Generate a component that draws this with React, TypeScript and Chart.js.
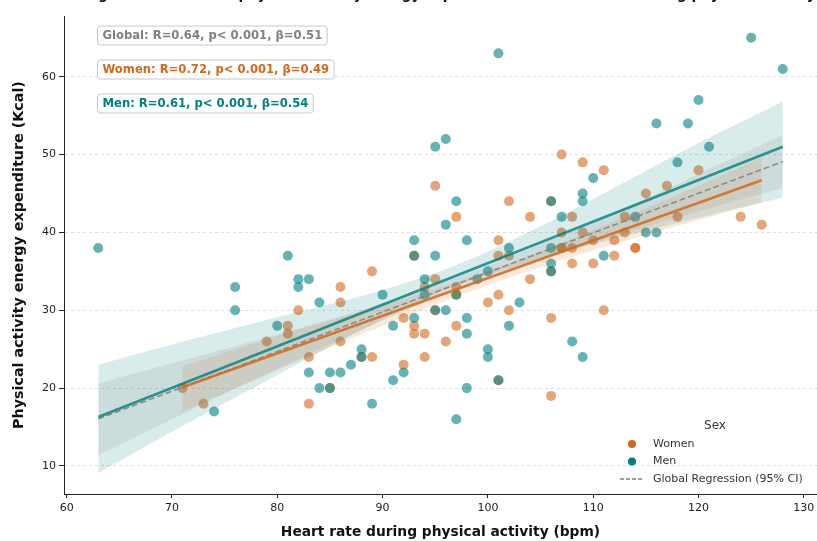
import React, { useEffect, useRef } from "react";
import { Chart, registerables } from "chart.js";
Chart.register(...registerables);

const FONT = "'DejaVu Sans', 'Noto Sans', sans-serif";

// ---- data ----
const womenHR = [71, 73, 79, 81, 81, 82, 83, 83, 85, 86, 86, 86, 88, 89, 89, 92, 92, 93, 93, 93, 94, 94, 94, 95, 95, 95, 96, 97, 97, 97, 97, 100, 101, 101, 101, 101, 102, 102, 102, 104, 104, 106, 106, 106, 106, 107, 107, 107, 107, 108, 108, 108, 109, 109, 110, 110, 111, 111, 112, 112, 113, 113, 114, 114, 115, 117, 118, 120, 124, 126];
const womenKcal = [20, 18, 26, 28, 27, 30, 24, 18, 20, 33, 31, 26, 24, 35, 24, 29, 23, 37, 28, 27, 33, 27, 24, 46, 34, 30, 26, 42, 33, 32, 28, 31, 39, 37, 32, 21, 44, 37, 30, 42, 34, 44, 35, 29, 19, 50, 40, 38, 38, 42, 38, 36, 49, 40, 39, 36, 48, 30, 39, 37, 42, 40, 38, 38, 45, 46, 42, 48, 42, 41];

const menHR = [63, 74, 76, 76, 80, 81, 82, 82, 83, 83, 84, 84, 85, 85, 86, 87, 88, 88, 89, 90, 91, 91, 92, 93, 93, 93, 94, 94, 95, 95, 95, 96, 96, 96, 97, 97, 97, 98, 98, 98, 98, 99, 100, 100, 100, 101, 101, 102, 102, 103, 106, 106, 106, 106, 107, 108, 109, 109, 109, 110, 111, 114, 115, 116, 116, 118, 119, 120, 121, 125, 128];
const menKcal = [38, 17, 33, 30, 28, 37, 34, 33, 34, 22, 31, 20, 22, 20, 22, 23, 25, 24, 18, 32, 28, 21, 22, 39, 37, 29, 34, 32, 51, 37, 30, 52, 41, 30, 44, 32, 16, 39, 29, 27, 20, 34, 35, 25, 24, 63, 21, 38, 28, 31, 44, 38, 36, 35, 42, 26, 45, 44, 24, 47, 37, 42, 40, 54, 40, 49, 54, 57, 51, 65, 61];

// regression lines (end points)
const womenFitX = [71, 126];
const womenFitY = [20.1, 46.7];
const menFitX = [63, 128];
const menFitY = [16.3, 51.0];
const globalFitX = [63, 128];
const globalFitY = [16.05, 49.1];

// 95% CI bands
const menBandX = [63, 70, 80, 90, 97, 105, 110, 120, 128];
const menBandLow = [9.1, 14.4, 21.7, 28.8, 33.2, 36.6, 38.5, 41.9, 44.5];
const menBandHigh = [23.0, 25.6, 29.1, 32.6, 35.8, 40.8, 44.3, 51.5, 56.8];
const womenBandX = [71, 80, 90, 100, 110, 120, 126];
const womenBandLow = [17.0, 22.3, 28.0, 33.2, 37.7, 41.6, 43.8];
const womenBandHigh = [22.8, 26.7, 30.6, 35.0, 40.3, 46.0, 49.6];
const globalBandX = [63, 70, 80, 90, 98, 110, 120, 128];
const globalBandLow = [11.4, 16.0, 22.5, 28.7, 33.1, 38.7, 42.7, 45.7];
const globalBandHigh = [20.6, 23.2, 26.9, 30.9, 34.7, 41.3, 47.5, 52.5];

const xTicks = [60, 70, 80, 90, 100, 110, 120, 130];
const yTicks = [10, 20, 30, 40, 50, 60];

const statLabels = [
  "Global: R=0.64, p< 0.001, β=0.51",
  "Women: R=0.72, p< 0.001, β=0.49",
  "Men: R=0.61, p< 0.001, β=0.54",
];
const legendLabels = ["Women", "Men", "Global Regression (95% CI)"];
const titleText = "Linear regression between physical activity energy expenditure and heart rate during physical activity";

const ORANGE = "#D2691E";
const TEAL = "#008080";
const GREY = "#808080";

const pts = (xs: number[], ys: number[]) => xs.map((x, i) => ({ x, y: ys[i] }));

const decorPlugin = {
  id: "decor",
  afterDraw(chart: any) {
    const ctx = chart.ctx as CanvasRenderingContext2D;
    const a = chart.chartArea;
    ctx.save();
    // clipped title (only descenders visible)
    ctx.font = `bold 13.5px ${FONT}`;
    ctx.fillStyle = "#111";
    ctx.textBaseline = "alphabetic";
    ctx.textAlign = "left";
    ctx.fillText(titleText, 30, -1);

    // stat boxes
    const colors = [GREY, ORANGE, TEAL];
    ctx.font = `bold 11.6px ${FONT}`;
    statLabels.forEach((t, i) => {
      const w = ctx.measureText(t).width;
      const x0 = a.left + 33;
      const yc = a.top + 19.5 + i * 34;
      ctx.beginPath();
      (ctx as any).roundRect(x0 + 0.5, yc - 9.5, w + 10, 19, 3);
      ctx.fillStyle = "#fff";
      ctx.fill();
      ctx.strokeStyle = "#c8c8c8";
      ctx.lineWidth = 1;
      ctx.stroke();
      ctx.fillStyle = colors[i];
      ctx.textBaseline = "middle";
      ctx.fillText(t, x0 + 5.5, yc + 0.5);
    });

    // legend
    const lx = 632;
    ctx.fillStyle = "#333";
    ctx.font = `12px ${FONT}`;
    ctx.textAlign = "center";
    ctx.textBaseline = "middle";
    ctx.fillText("Sex", lx + 83, a.bottom - 68);
    ctx.textAlign = "left";
    ctx.font = `11px ${FONT}`;
    const mk = [ORANGE, TEAL];
    [0, 1].forEach((i) => {
      const y = a.bottom - 50 + i * 17.5;
      ctx.beginPath();
      ctx.arc(lx, y, 4, 0, Math.PI * 2);
      ctx.fillStyle = mk[i];
      ctx.fill();
      ctx.fillStyle = "#333";
      ctx.fillText(legendLabels[i], lx + 21, y);
    });
    const gy = a.bottom - 15;
    ctx.beginPath();
    ctx.setLineDash([4, 2]);
    ctx.strokeStyle = GREY;
    ctx.lineWidth = 1.5;
    ctx.moveTo(lx - 12, gy);
    ctx.lineTo(lx + 12, gy);
    ctx.stroke();
    ctx.setLineDash([]);
    ctx.fillStyle = "#333";
    ctx.fillText(legendLabels[2], lx + 21, gy);
    ctx.restore();
  },
};

export default function App() {
  const ref = useRef<HTMLCanvasElement>(null);
  useEffect(() => {
    const band = (xs: number[], lo: number[], hi: number[], color: string, order: number) => [
      {
        type: "line",
        data: pts(xs, lo),
        borderColor: "transparent",
        borderWidth: 0,
        pointRadius: 0,
        fill: false,
        cubicInterpolationMode: "monotone",
        order,
      },
      {
        type: "line",
        data: pts(xs, hi),
        borderColor: "transparent",
        borderWidth: 0,
        pointRadius: 0,
        fill: "-1",
        backgroundColor: color,
        cubicInterpolationMode: "monotone",
        order,
      },
    ];
    const chart = new Chart(ref.current as HTMLCanvasElement, {
      type: "scatter",
      data: {
        datasets: [
          {
            label: "Women",
            data: pts(womenHR, womenKcal),
            backgroundColor: "rgba(210,105,30,0.6)",
            borderColor: "rgba(0,0,0,0)",
            borderWidth: 0,
            pointRadius: 5,
            order: 30,
          },
          {
            label: "Men",
            data: pts(menHR, menKcal),
            backgroundColor: "rgba(0,128,128,0.6)",
            borderColor: "rgba(0,0,0,0)",
            borderWidth: 0,
            pointRadius: 5,
            order: 29,
          },
          ...band(menBandX, menBandLow, menBandHigh, "rgba(0,128,128,0.15)", 12),
          ...band(womenBandX, womenBandLow, womenBandHigh, "rgba(210,105,30,0.15)", 11),
          ...band(globalBandX, globalBandLow, globalBandHigh, "rgba(128,128,128,0.15)", 10),
          {
            type: "line",
            label: "Global",
            data: pts(globalFitX, globalFitY),
            borderColor: "rgba(128,128,128,0.9)",
            borderWidth: 1.5,
            borderDash: [6, 3],
            pointRadius: 0,
            fill: false,
            order: 3,
          },
          {
            type: "line",
            label: "MenFit",
            data: pts(menFitX, menFitY),
            borderColor: "rgba(0,128,128,0.8)",
            borderWidth: 2.6,
            pointRadius: 0,
            fill: false,
            order: 2,
          },
          {
            type: "line",
            label: "WomenFit",
            data: pts(womenFitX, womenFitY),
            borderColor: "rgba(210,105,30,0.85)",
            borderWidth: 2.6,
            pointRadius: 0,
            fill: false,
            order: 1,
          },
        ] as any,
      },
      options: {
        responsive: false,
        animation: false,
        devicePixelRatio: 1,
        layout: { autoPadding: false, padding: { left: 0, top: 16, right: -2, bottom: 0 } },
        plugins: { legend: { display: false }, tooltip: { enabled: false }, title: { display: false } },
        scales: {
          x: {
            type: "linear",
            min: 59.75,
            max: 131.25,
            afterBuildTicks: (s: any) => {
              s.ticks = xTicks.map((v) => ({ value: v }));
            },
            afterFit: (s: any) => {
              s.height = 47;
              s.paddingRight = 0;
              s.paddingLeft = 0;
            },
            ticks: { font: { family: FONT, size: 11 }, color: "#222", padding: 4 },
            grid: { drawOnChartArea: false, drawTicks: true, tickLength: 4, tickColor: "#222", tickWidth: 1 },
            border: { display: true, color: "#222", width: 1 },
            title: {
              display: true,
              text: "Heart rate during physical activity (bpm)",
              font: { family: FONT, size: 13.8, weight: "bold" },
              color: "#111",
              padding: { top: 0, bottom: 0 },
            },
          },
          y: {
            type: "linear",
            min: 6.4,
            max: 67.8,
            afterBuildTicks: (s: any) => {
              s.ticks = yTicks.map((v) => ({ value: v }));
            },
            afterFit: (s: any) => {
              s.width = 64;
              s.paddingTop = 0;
              s.paddingBottom = 0;
            },
            ticks: { font: { family: FONT, size: 11 }, color: "#222", padding: 3 },
            grid: {
              drawOnChartArea: true,
              color: "rgba(0,0,0,0.16)",
              lineWidth: 0.8,
              drawTicks: true,
              tickLength: 5,
              tickColor: "#222",
              tickWidth: 1,
              tickBorderDash: [],
            },
            border: { display: true, color: "#222", width: 1, dash: [3, 3] },
            title: {
              display: true,
              text: "Physical activity energy expenditure (Kcal)",
              font: { family: FONT, size: 14.3, weight: "bold" },
              color: "#111",
              padding: { top: 11, bottom: 11 },
            },
          },
        },
      } as any,
      plugins: [decorPlugin],
    });
    return () => chart.destroy();
  }, []);
  return (
    <div style={{ position: "fixed", left: 0, top: 0, width: 817, height: 541, background: "#fff" }}>
      <canvas ref={ref} width={817} height={541} style={{ display: "block", width: 817, height: 541 }} />
    </div>
  );
}
